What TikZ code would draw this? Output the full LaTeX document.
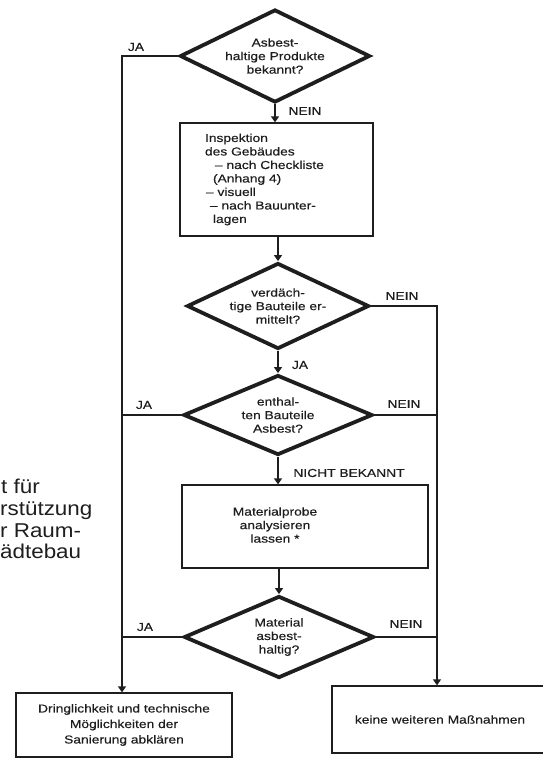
\documentclass[tikz,border=0pt]{standalone}
\usepackage{fontspec}
\setmainfont[FakeStretch=1.2,FakeBold=0.4]{Liberation Sans}
\newfontfamily\sidefont[FakeStretch=1.12]{Liberation Sans}
\usetikzlibrary{shapes.geometric,arrows.meta}
\definecolor{ink}{HTML}{1E1E1E}

\begin{document}
\begin{tikzpicture}[x=1pt,y=-1pt,
  every node/.style={text=ink, font=\fontsize{11.5}{13.5}\selectfont},
  decision/.style={draw=ink, shape=diamond, aspect=2, inner sep=0pt,
    line width=3.8pt, line join=miter, align=center},
  box/.style={draw=ink, line width=1.3pt, inner sep=0pt},
  conn/.style={draw=ink, line width=1.3pt},
  arr/.style={conn, -{Triangle[length=6pt,width=8pt]}},
  lbl/.style={inner sep=0pt},
  side/.style={anchor=base west, inner sep=0pt,
    font=\sidefont\fontsize{20}{22}\selectfont}]

\useasboundingbox (0,0) rectangle (542,763);

% decisions and actions
\node[decision, minimum width=190pt, minimum height=93pt] (d1) at (275,56)
  {Asbest-\\haltige Produkte\\bekannt?};

\node[box, minimum width=193pt, minimum height=113pt, text width=143pt,
  inner xsep=25pt, align=left] (b1) at (276.5,179.5)
  {Inspektion\\
   des Gebäudes\\
   \hspace*{10pt}– nach Checkliste\\
   \hspace*{8pt}(Anhang 4)\\
   \hspace*{1pt}– visuell\\
   \hspace*{5pt}– nach Bauunter-\\
   \hspace*{8pt}lagen};

\node[decision, minimum width=182pt, minimum height=86pt] (d2) at (278,306)
  {verdäch-\\tige Bauteile er-\\mittelt?};

\node[decision, minimum width=189pt, minimum height=80pt] (d3) at (278,415)
  {enthal-\\ten Bauteile\\Asbest?};

\node[box, minimum width=246pt, minimum height=83pt] (b2) at (305,526.5) {};
\node[align=center, inner sep=0pt] (b2t) at (275,525)
  {Materialprobe\\analysieren\\lassen *};

\node[decision, minimum width=190pt, minimum height=82pt] (d4) at (279,637)
  {Material\\asbest-\\haltig?};

\node[box, minimum width=216pt, minimum height=64pt, align=center,
  font=\fontsize{11.5}{15.5}\selectfont] (b3) at (124,725)
  {Dringlichkeit und technische\\Möglichkeiten der\\Sanierung abklären};

\node[box, minimum width=216pt, minimum height=67pt] (b4) at (440,719.5)
  {keine weiteren Maßnahmen};

% branch labels
\node[lbl] (l1) at (136,47) {JA};
\node[lbl] (l2) at (305,111) {NEIN};
\node[lbl] (l3) at (402,296) {NEIN};
\node[lbl] (l4) at (300,365) {JA};
\node[lbl] (l5) at (144,405) {JA};
\node[lbl] (l6) at (404,404) {NEIN};
\node[lbl] (l7) at (349,473) {NICHT BEKANNT};
\node[lbl] (l8) at (145,627) {JA};
\node[lbl] (l9) at (406,624) {NEIN};

% collecting lines
\coordinate (lx) at (122,56);
\coordinate (rx) at (437,306);

% connectors
\draw[arr] (d1.south) -- (d1.south |- b1.north);
\draw[arr] (d2.north |- b1.south) -- (d2.north);
\draw[arr] (d2.south) -- (d3.north);
\draw[arr] (d3.south) -- (d3.south |- b2.north);
\draw[arr] (d4.north |- b2.south) -- (d4.north);
\draw[arr] (d1.west) -- (lx) -- (lx |- b3.north);
\draw[conn] (d3.west) -- (d3.west -| lx);
\draw[conn] (d4.west) -- (d4.west -| lx);
\draw[arr] (d2.east) -- (rx) -- (rx |- b4.north);
\draw[conn] (d3.east) -- (d3.east -| rx);
\draw[conn] (d4.east) -- (d4.east -| rx);

% text running in from the left margin
\node[side] (s1) at (1,493) {t für};
\node[side] (s2) at (0,515) {rstützung};
\node[side] (s3) at (0,537) {r Raum-};
\node[side] (s4) at (0,558) {ädtebau};
\end{tikzpicture}
\end{document}
